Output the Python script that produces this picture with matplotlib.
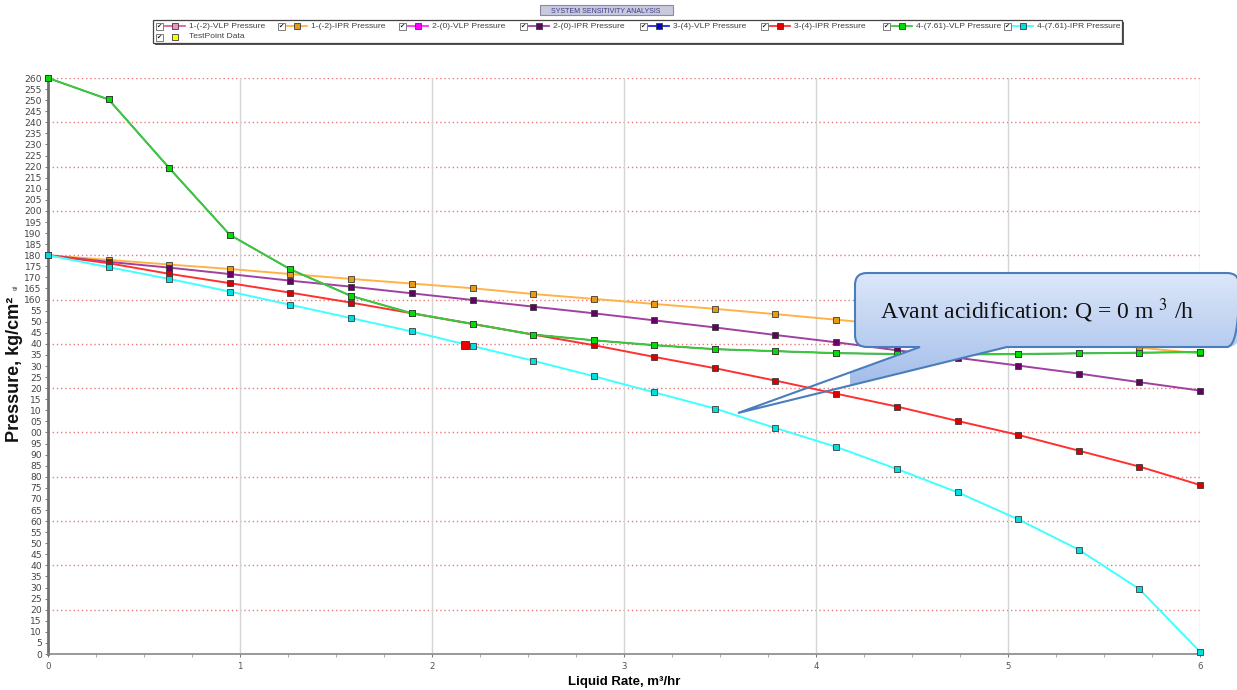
import numpy as np
import matplotlib.pyplot as plt
from matplotlib.path import Path
from matplotlib.patches import PathPatch, Rectangle

plt.rcParams['mathtext.fontset'] = 'stix'

# liquid rate grid, m3/hr
rate = [0.0, 0.316, 0.632, 0.947, 1.263, 1.579, 1.895, 2.211, 2.526, 2.842,
        3.158, 3.474, 3.789, 4.105, 4.421, 4.737, 5.053, 5.368, 5.684, 6.0]

# VLP curve (same for every skin case)
vlp = [260.0, 250.3, 219.3, 189.2, 173.6, 161.6, 153.8, 149.0, 144.2, 141.6,
       139.4, 137.6, 136.7, 135.8, 135.4, 135.2, 135.4, 135.7, 136.0, 136.3]

# IPR curves by skin
ipr_m2 = [180.0, 177.9, 175.8, 173.8, 171.5, 169.3, 167.2, 165.1, 162.5, 160.3,
          158.0, 155.8, 153.4, 150.9, 148.4, 145.9, 143.4, 140.8, 138.3, 135.7]
ipr_0 = [180.0, 177.0, 174.4, 171.5, 168.5, 165.8, 162.8, 159.8, 156.8, 153.8,
         150.6, 147.4, 144.0, 140.7, 137.1, 133.7, 130.2, 126.6, 122.7, 118.9]
ipr_4 = [180.0, 176.4, 171.6, 167.4, 163.1, 158.6, 153.8, 149.0, 144.2, 139.4,
         134.1, 129.0, 123.4, 117.5, 111.7, 105.2, 98.9, 91.8, 84.6, 76.3]
ipr_761 = [180.0, 174.6, 169.3, 163.6, 157.6, 151.6, 145.6, 139.0, 132.4, 125.4,
           118.1, 110.8, 102.0, 93.5, 83.5, 73.0, 60.8, 47.1, 29.3, 1.0]

test_rate = [2.174]
test_press = [139.4]

names = ["1-(-2)-VLP Pressure", "1-(-2)-IPR Pressure", "2-(0)-VLP Pressure",
         "2-(0)-IPR Pressure", "3-(4)-VLP Pressure", "3-(4)-IPR Pressure",
         "4-(7.61)-VLP Pressure", "4-(7.61)-IPR Pressure"]
series = [vlp, ipr_m2, vlp, ipr_0, vlp, ipr_4, vlp, ipr_761]
line_cols = ["#e0609e", "#ffb347", "#ff30ff", "#a040a0",
             "#2020ff", "#ff3030", "#3cc83c", "#40ffff"]
mark_cols = ["#f090c8", "#e89a10", "#ff00ff", "#660066",
             "#0000cc", "#dd0000", "#00dd00", "#00dede"]
# the first three VLP curves sit under the last one
widths = [0.8, 1.4, 0.8, 1.4, 0.8, 1.4, 1.5, 1.4]

fig = plt.figure(figsize=(12.37, 6.9), dpi=100)
ax = fig.add_axes([48 / 1237, 1 - 654 / 690, 1152 / 1237, 576 / 690])

for name, ys, lc, mc, lw in zip(names, series, line_cols, mark_cols, widths):
    ax.plot(rate, ys, color=lc, lw=lw, marker='s', ms=3.8, mfc=mc,
            mec='#3a3a3a', mew=0.6, clip_on=False, zorder=3, label=name)
ax.plot(test_rate, test_press, 's', ms=5.2, mfc='#ee0000', mec='#990000',
        mew=0.6, zorder=4)

ax.set_xlim(0, 6)
ax.set_ylim(0, 260)

yt = list(range(0, 261, 5))
ylabs = [f"{v % 100:02d}" if 100 <= v < 160 else str(v) for v in yt]
ax.set_yticks(yt)
ax.set_yticklabels(ylabs)
ax.set_xticks(range(7))
ax.set_xticks(np.arange(0, 6.01, 0.25), minor=True)
ax.tick_params(axis='both', labelsize=6.6, labelcolor='#444444', colors='#777777',
               length=2.5, width=0.7, pad=2)
ax.tick_params(axis='x', labelsize=6.2, labelcolor='#555555', pad=3)
ax.tick_params(axis='x', which='minor', length=2, width=0.6, colors='#999999')

for v in range(0, 261, 20):
    ax.axhline(v, color='#e67a7a', lw=1.0, ls=(0, (1, 2)), zorder=1)
for v in range(1, 7):
    ax.axvline(v, color='#d4d4d4', lw=1.0, zorder=1)

for s in ['top', 'right']:
    ax.spines[s].set_visible(False)
ax.spines['left'].set_color('#707070')
ax.spines['left'].set_linewidth(2.0)
ax.spines['bottom'].set_color('#888888')
ax.spines['bottom'].set_linewidth(1.2)

ax.set_xlabel("Liquid Rate, m³/hr", family='Liberation Sans', weight='bold',
              fontsize=9.5, labelpad=4)

# overlay in pixel units for the axis title, legend panel and callout
ov = fig.add_axes([0, 0, 1, 1], zorder=5)
ov.set_xlim(0, 1237)
ov.set_ylim(690, 0)
ov.axis('off')

ov.text(15, 369, "Pressure, kg/cm²", rotation=90, family='Liberation Sans',
        weight='bold', fontsize=13, ha='center', va='center', color='#111111')
ov.text(15, 287, "g)", rotation=90, fontsize=4.5, color='#333333',
        ha='center', va='center', family='Liberation Sans')

# title tab
ov.add_patch(Rectangle((540, 5), 133, 10, fc='#c9c9dc', ec='#8a8aa8', lw=0.8))
ov.text(606, 11.5, "SYSTEM SENSITIVITY ANALYSIS", fontsize=5, color='#3a3a8a',
        ha='center', va='center', family='Liberation Sans')

# legend panel
ov.add_patch(Rectangle((155, 22), 969, 23, fc='#555555', ec='none'))
ov.add_patch(Rectangle((153, 20), 969, 23, fc='white', ec='#444444', lw=0.9))


def legend_entry(cx, cy, lc, mc, label):
    ov.add_patch(Rectangle((cx - 3.5, cy - 3.5), 7, 7, fc='white',
                           ec='#666666', lw=0.6))
    ov.text(cx, cy + 0.3, "✔", fontsize=4.5, ha='center', va='center',
            color='#111111')
    if lc is not None:
        ov.plot([cx + 6, cx + 26], [cy, cy], color=lc, lw=1.3)
    ov.plot([cx + 16], [cy], 's', ms=3.8, mfc=mc, mec='#3a3a3a', mew=0.6)
    ov.text(cx + 30, cy, label, fontsize=6.1, color='#404040', ha='left',
            va='center', family='Liberation Sans')


box_x = [159, 281, 402, 523, 643, 764, 886, 1007]
for bx, name, lc, mc in zip(box_x, names, line_cols, mark_cols):
    legend_entry(bx, 26, lc, mc, name)
legend_entry(159, 37, None, '#ffff00', "TestPoint Data")

# callout balloon
x0, x1, y0, y1, r = 855, 1239, 273, 347, 12
verts = [(x0 + r, y0), (x1 - r, y0), (x1, y0), (x1, y0 + r), (x1, y1 - r),
         (x1, y1), (x1 - r, y1), (1007, y1), (738, 413), (920, y1),
         (x0 + r, y1), (x0, y1), (x0, y1 - r), (x0, y0 + r), (x0, y0),
         (x0 + r, y0), (x0 + r, y0)]
codes = [Path.MOVETO, Path.LINETO, Path.CURVE3, Path.CURVE3, Path.LINETO,
         Path.CURVE3, Path.CURVE3, Path.LINETO, Path.LINETO, Path.LINETO,
         Path.LINETO, Path.CURVE3, Path.CURVE3, Path.LINETO, Path.CURVE3,
         Path.CURVE3, Path.CLOSEPOLY]
balloon = Path(verts, codes)

top = np.array([0.87, 0.91, 0.98])
bot = np.array([0.58, 0.70, 0.90])
t = np.linspace(0, 1, 200)[:, None]
grad = (top * (1 - t) + bot * t)[:, None, :]
img = ov.imshow(grad, extent=[850, 1240, 415, 270], aspect='auto',
                interpolation='bilinear', zorder=6)
body = PathPatch(balloon, fc='none', ec='#4a7dbb', lw=1.5, zorder=7)
ov.add_patch(body)
img.set_clip_path(body)
ov.set_xlim(0, 1237)
ov.set_ylim(690, 0)

ov.text(880, 311, "Avant acidification: Q = 0 m $^{3}$ /h",
        family='Liberation Serif', fontsize=17, color='#111111',
        ha='left', va='center', zorder=8)

fig.savefig("out.png", dpi=100)
